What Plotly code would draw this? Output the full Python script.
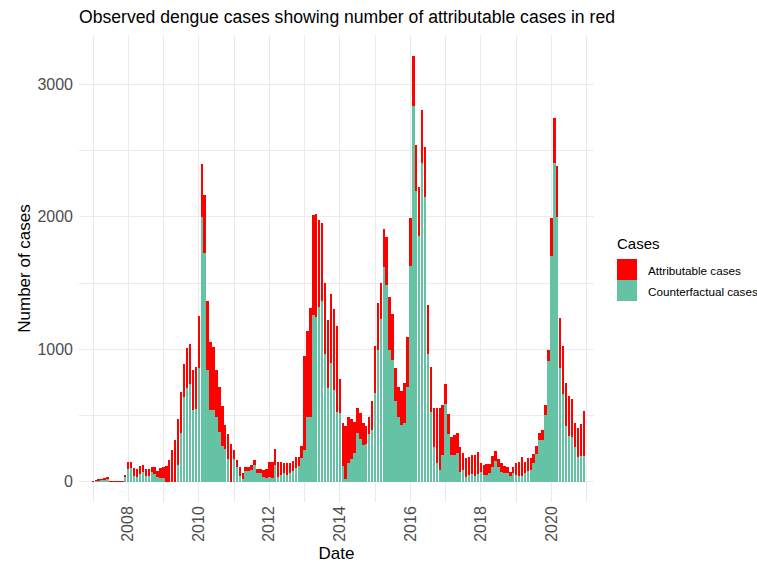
import plotly.graph_objects as go
import pandas as pd

# Monthly dates Jan 2007 - Dec 2020
months = pd.date_range("2007-01-01", "2020-12-01", freq="MS")

counterfactual = [
    3, 7, 12, 16, 20, 28, 3, 3, 2, 2, 2, 38,                      # 2007
    93, 100, 45, 35, 60, 70, 45, 45, 70, 60, 35, 30,              # 2008
    30, 0, 0, 0, 0, 126, 365, 640, 711, 741, 540, 548,            # 2009
    862, 1997, 1729, 842, 540, 540, 490, 372, 271, 246, 171, 0,   # 2010
    171, 108, 45, 20, 83, 83, 88, 126, 65, 65, 38, 25,            # 2011
    38, 25, 126, 38, 50, 63, 50, 63, 83, 105, 115, 180,           # 2012
    239, 490, 490, 1256, 1244, 1319, 1364, 967, 711, 897, 696, 528,  # 2013
    520, 118, 18, 143, 168, 214, 369, 319, 276, 284, 364, 394,    # 2014
    671, 997, 1228, 1621, 1485, 992, 917, 610, 490, 427, 445, 716,   # 2015
    1626, 2839, 2198, 1852, 2405, 2153, 967, 528, 259, 138, 88, 200,  # 2016
    590, 364, 201, 201, 214, 75, 88, 38, 50, 55, 42, 58,          # 2017
    75, 50, 50, 63, 108, 156, 113, 75, 68, 63, 43, 63,            # 2018
    50, 43, 43, 63, 83, 88, 138, 212, 312, 317, 500, 915,         # 2019
    1704, 2407, 1997, 862, 661, 422, 347, 334, 259, 188, 196, 196,  # 2020
]

attributable = [
    2, 3, 3, 4, 5, 7, 2, 2, 3, 3, 3, 7,                           # 2007
    55, 48, 60, 58, 58, 55, 48, 48, 43, 53, 45, 70,               # 2008
    83, 118, 163, 240, 318, 349, 315, 247, 301, 302, 302, 319,    # 2009
    389, 403, 439, 522, 518, 478, 352, 344, 302, 184, 188, 284,   # 2010
    68, 55, 68, 43, 30, 30, 40, 37, 30, 30, 47, 68,               # 2011
    113, 123, 120, 113, 96, 80, 88, 80, 75, 80, 75, 90,           # 2012
    708, 648, 824, 754, 774, 658, 588, 533, 508, 523, 611, 645,   # 2013
    259, 322, 402, 342, 302, 238, 184, 201, 169, 136, 121, 217,   # 2014
    352, 352, 272, 289, 360, 404, 347, 252, 226, 259, 301, 377,   # 2015
    366, 377, 347, 372, 402, 372, 365, 339, 294, 415, 472, 380,   # 2016
    151, 146, 138, 151, 155, 184, 126, 138, 140, 150, 163, 163,   # 2017
    68, 76, 81, 70, 88, 78, 55, 68, 50, 45, 32, 50,               # 2018
    93, 108, 145, 83, 93, 88, 71, 58, 56, 70, 79, 77,             # 2019
    288, 339, 385, 377, 364, 327, 301, 289, 181, 217, 239, 339,   # 2020
]

GREEN = "#66C2A5"
RED = "#FF0000"
bar_width_ms = 25.2 * 24 * 3600 * 1000

fig = go.Figure()
fig.add_bar(x=months, y=counterfactual, name="Counterfactual cases",
            marker=dict(color=GREEN, line=dict(width=0)), width=bar_width_ms)
fig.add_bar(x=months, y=attributable, name="Attributable cases",
            marker=dict(color=RED, line=dict(width=0)), width=bar_width_ms)

FONT = "Liberation Sans, Arial, Helvetica, sans-serif"
W, H = 757, 572
L, R, T, B = 79, 594, 35, 502


def px_x(p):
    return (p - L) / (R - L)


def px_y(p):
    return (B - p) / (B - T)


shapes = [
    dict(type="rect", xref="paper", yref="paper",
         x0=px_x(617), x1=px_x(637), y0=px_y(280), y1=px_y(259),
         fillcolor=RED, line=dict(width=0)),
    dict(type="rect", xref="paper", yref="paper",
         x0=px_x(617), x1=px_x(637), y0=px_y(301), y1=px_y(280),
         fillcolor=GREEN, line=dict(width=0)),
]
annotations = [
    dict(text="Cases", xref="paper", yref="paper", x=px_x(615), y=px_y(243),
         xanchor="left", yanchor="middle", showarrow=False,
         font=dict(size=15, color="black", family=FONT)),
    dict(text="Attributable cases", xref="paper", yref="paper", x=px_x(646), y=px_y(270),
         xanchor="left", yanchor="middle", showarrow=False,
         font=dict(size=11.7, color="black", family=FONT)),
    dict(text="Counterfactual cases", xref="paper", yref="paper", x=px_x(646), y=px_y(291),
         xanchor="left", yanchor="middle", showarrow=False,
         font=dict(size=11.7, color="black", family=FONT)),
]

fig.update_layout(
    width=W, height=H,
    margin=dict(l=L, r=W - R, t=T, b=H - B, autoexpand=False),
    barmode="stack",
    bargap=0,
    showlegend=False,
    plot_bgcolor="white",
    paper_bgcolor="white",
    font=dict(family=FONT),
    title=dict(text="Observed dengue cases showing number of attributable cases in red",
               x=px_x(79), xref="paper", xanchor="left",
               y=1 - 17 / H, yref="container", yanchor="middle",
               font=dict(size=17.6, color="black", family=FONT)),
    shapes=shapes,
    annotations=annotations,
    xaxis=dict(
        type="date",
        range=["2006-08-09", "2021-03-17"],
        tick0="2008-01-01", dtick="M24", tickformat="%Y",
        tickangle=-90,
        ticks="",
        showgrid=True, gridcolor="#EBEBEB", gridwidth=1.1,
        minor=dict(tick0="2007-01-01", dtick="M12", showgrid=True,
                   gridcolor="#EBEBEB", gridwidth=0.6),
        zeroline=False, showline=False,
        tickfont=dict(size=16, color="#4D4D4D", family=FONT),
        title=dict(text="Date", font=dict(size=17, color="black", family=FONT), standoff=6),
    ),
    yaxis=dict(
        range=[-153, 3372],
        tick0=0, dtick=1000, tickformat="d",
        ticks="",
        ticklabelstandoff=5,
        showgrid=True, gridcolor="#EBEBEB", gridwidth=1.1,
        minor=dict(tick0=0, dtick=500, showgrid=True, gridcolor="#EBEBEB", gridwidth=0.6),
        zeroline=False, showline=False,
        tickfont=dict(size=16, color="#4D4D4D", family=FONT),
        title=dict(text="Number of cases", font=dict(size=17, color="black", family=FONT), standoff=2),
    ),
)

fig.write_html(
    "out.html",
    config={"displayModeBar": False},
    post_script="document.body.style.margin='0px';document.body.style.overflow='hidden';",
)
